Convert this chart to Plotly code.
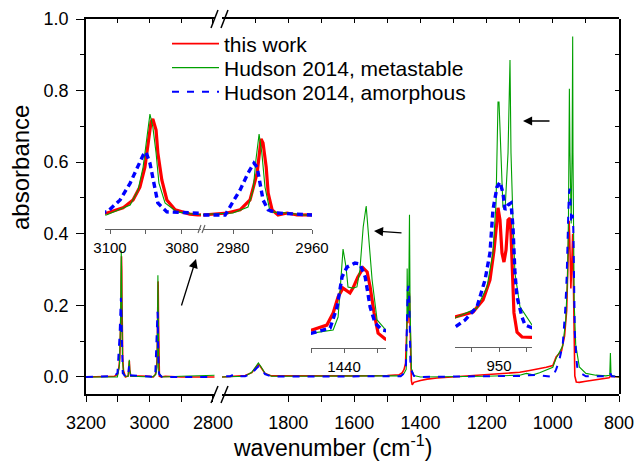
import plotly.graph_objects as go

# ---------------- data (wavenumber cm-1, absorbance) ----------------
red_wn = [3200, 3110, 3100.8, 3096.4, 3093.6, 3091.7, 3090.3, 3089.4, 3088.6, 3088.1, 3087.2, 3086.7,
          3085.6, 3084.2, 3081.9, 3077.8, 3075.6, 3067, 3065, 3063.5, 3062, 3059, 3000,
          2987.6, 2981.5, 2978.2, 2975.7, 2973.9, 2972.9, 2972.4, 2971.6, 2971.1, 2970.1, 2968.6,
          2966.3, 2963.8, 2950, 2900, 2795,
          2000, 1960, 1930, 1910, 1897, 1890, 1883, 1870, 1850, 1700, 1600, 1500, 1465, 1455,
          1449.7, 1445.2, 1443.3, 1441.8, 1440.3, 1439.1, 1438.2, 1437.3, 1435.8, 1434.2, 1433.0,
          1432.1, 1430.9, 1429.7, 1427.6, 1425, 1420, 1400, 1380, 1350, 1300, 1200, 1150, 1100,
          1070, 1050, 1020, 1000, 990, 973.6, 964.5, 958.2, 954.5, 951.8, 950.9, 949.1, 947.3,
          945.5, 943.6, 941.8, 940, 939.1, 937.3, 936.4, 933.6, 929.1, 920, 900, 860, 830, 826,
          810, 800]
red_abs = [0, 0.002, 0.007, 0.025, 0.053, 0.098, 0.168, 0.263, 0.326, 0.337, 0.298, 0.218,
           0.123, 0.053, 0.018, 0.003, 0.0, 0.003, 0.02, 0.045, 0.02, 0.003, 0.002,
           0.0, 0.007, 0.018, 0.053, 0.147, 0.267, 0.253, 0.168, 0.077, 0.018, 0.0,
           0.007, 0.0, 0.002, 0.0, 0.0,
           0.0, 0.003, 0.004, 0.012, 0.028, 0.036, 0.028, 0.01, 0.003, 0.002, 0.003, 0.004, 0.006, 0.012,
           0.021, 0.038, 0.080, 0.136, 0.167, 0.157, 0.150, 0.167, 0.206, 0.237, 0.223,
           0.171, 0.080, 0.010, -0.010, -0.022, -0.015, -0.010, -0.006, -0.003, 0.0, 0.006, 0.009, 0.013,
           0.018, 0.021, 0.027, 0.032, 0.056, 0.073, 0.115, 0.185, 0.289, 0.394, 0.436, 0.394, 0.279,
           0.247, 0.289, 0.394, 0.400, 0.348, 0.185, 0.07, 0.003, -0.014, -0.015, -0.012, -0.007, -0.002, 0.002,
           0.0, 0.0]

green_wn = [3200, 3110, 3101, 3094.4, 3092.2, 3090.8, 3089.7, 3088.9, 3088.1, 3087.2, 3086.4, 3084.7,
            3081.4, 3076, 3067, 3065, 3063.5, 3062, 3059, 2990, 2980, 2976.2, 2974.9, 2974.2, 2973.4,
            2972.7, 2971.9, 2970.6, 2966.3, 2962, 2900, 2795,
            2000, 1930, 1910, 1897, 1890, 1883, 1870, 1850, 1460, 1449.7, 1443.3, 1441.8, 1440.9,
            1440.3, 1439.4, 1438.8, 1437.3, 1436.1, 1435.2, 1434.2, 1433.3, 1432.7, 1431.5, 1430.0,
            1427.6, 1420, 1400, 1200, 1100, 1080, 1060, 1040, 1020, 1000, 990, 970, 960.9, 955.5,
            952.7, 950.9, 950, 948.2, 946.4, 944.5, 941.8, 940, 939.1, 937.3, 935.5, 930.9, 920, 900,
            870, 840, 828, 826, 824, 810, 800]
green_abs = [0, 0.0, 0.0, 0.035, 0.088, 0.168, 0.288, 0.354, 0.309, 0.218, 0.112, 0.042,
             0.011, 0.002, 0.002, 0.02, 0.048, 0.02, 0.002, 0.0, 0.007, 0.028, 0.088, 0.193, 0.284,
             0.218, 0.098, 0.011, 0.007, 0.0, 0.002, 0.0,
             0.0, 0.002, 0.013, 0.03, 0.039, 0.03, 0.01, 0.002, 0.003, 0.010, 0.021, 0.066, 0.206,
             0.303, 0.240, 0.171, 0.167, 0.171, 0.230, 0.380, 0.453, 0.369, 0.195, 0.056,
             0.024, 0.004, 0.0, 0.002, 0.005, 0.01, 0.006, 0.012, 0.02, 0.027, 0.052, 0.087, 0.16, 0.279,
             0.453, 0.805, 0.805, 0.627, 0.439, 0.429, 0.627, 0.951, 0.627, 0.394, 0.209, 0.091, 0.028, 0.01,
             0.005, 0.003, 0.005, 0.067, 0.005, 0.001, 0.0]

blue_wn = [3200, 3110, 3100.8, 3097.2, 3094.4, 3092.2, 3090.8, 3090.0, 3088.9, 3087.8, 3086.7, 3084.2,
           3080.6, 3075.6, 3067, 3064.5, 3062, 2990, 2982, 2980.8, 2978.2, 2976.2, 2974.7, 2973.9,
           2973.2, 2972.4, 2971.1, 2968.9, 2960, 2795,
           2000, 1975, 1966, 1958, 1930, 1910, 1895, 1889, 1883, 1870, 1850, 1460, 1449.7, 1444.2,
           1442.1, 1440.6, 1439.1, 1436.7, 1435.2, 1433.6, 1432.1, 1430.6, 1428.5, 1420, 1400, 1100,
           1050, 1010, 1000, 990, 980.9, 970, 962.7, 958.2, 955.5, 951.8, 949.1, 946.4, 944.5, 941.8,
           939.1, 937.3, 935.5, 933.6, 929.1, 926.4, 915, 900, 830, 826, 822, 800]
blue_abs = [0, 0.003, 0.011, 0.053, 0.112, 0.168, 0.21, 0.221, 0.182, 0.112, 0.042, 0.011,
            0.007, 0.0, 0.002, 0.03, 0.005, 0.0, 0.0, 0.028, 0.088, 0.147, 0.182, 0.168,
            0.112, 0.053, 0.018, 0.007, 0.0, 0.0,
            0.0, 0.002, 0.006, 0.002, 0.002, 0.01, 0.025, 0.03, 0.025, 0.008, 0.001, 0.002, 0.010, 0.028,
            0.101, 0.206, 0.240, 0.254, 0.251, 0.206, 0.101, 0.045, 0.021, 0.003, 0.0, 0.003,
            0.006, 0.0, 0.0, 0.021, 0.045, 0.091, 0.185, 0.279, 0.429, 0.509, 0.526, 0.488, 0.429, 0.446,
            0.453, 0.369, 0.209, 0.125, 0.056, 0.028, 0.01, 0.002, 0.002, 0.01, 0.002, 0.0]

series_names = ["this work", "Hudson 2014, metastable", "Hudson 2014, amorphous"]
left_ticks = [3200, 3000, 2800]
right_ticks = [1800, 1600, 1400, 1200, 1000, 800]
y_ticks = [0.0, 0.2, 0.4, 0.6, 0.8, 1.0]

# ---------------- layout helpers ----------------
W, H = 637, 462
def fx(px):
    return px / W
def fy(py):
    return 1 - py / H

FONT = "Liberation Sans, Arial, sans-serif"
RED, GREEN, BLUE = "#ff0000", "#00a000", "#0000ff"
series = [(red_wn, red_abs, RED), (green_wn, green_abs, GREEN), (blue_wn, blue_abs, BLUE)]
legend_ids = ["legend", "legend2", "legend3"]
legend_rows = [44, 68, 92]

fig = go.Figure()

def line_style(i, inset):
    if i == 0:
        return dict(color=RED, width=3.2 if inset else 1.6)
    if i == 1:
        return dict(color=GREEN, width=1.1)
    return dict(color=BLUE, width=3.4 if inset else 2.0, dash="6px,4px" if inset else "7px,8px")

subplots = [("x", "y", False), ("x2", "y", False), ("x5", "y3", True), ("x6", "y3", True),
            ("x7", "y4", True), ("x8", "y5", True)]
for xa, ya, inset in subplots:
    for i, (wn, ab, col) in enumerate(series):
        fig.add_trace(go.Scatter(x=wn, y=ab, mode="lines", xaxis=xa, yaxis=ya,
                                 line=line_style(i, inset), name=series_names[i],
                                 legend=legend_ids[i],
                                 showlegend=(xa == "x"), hoverinfo="skip"))
# empty traces to register the mirror axes
for xa, ya in [("x3", "y"), ("x4", "y"), ("x2", "y2")]:
    fig.add_trace(go.Scatter(x=[], y=[], xaxis=xa, yaxis=ya, showlegend=False, hoverinfo="skip"))

ax_common = dict(showgrid=False, zeroline=False, linecolor="black", linewidth=1.5, automargin=False,
                 tickcolor="black", tickwidth=1.3, tickfont=dict(family=FONT, size=18, color="black"))

y_main = dict(domain=[fy(394), fy(19)], range=[-0.0476, 1.0])
xl_dom = [fx(86), fx(214.5)]
xr_dom = [fx(222), fx(619)]
xl_rng = [3200, 2795]
xr_rng = [2000, 800]

inset_ax = dict(showgrid=False, zeroline=False, showline=True, linecolor="#606060", linewidth=1.2,
                ticks="outside", ticklen=4, tickcolor="#606060", tickwidth=1, automargin=False,
                tickfont=dict(family=FONT, size=15, color="black"), ticklabelstandoff=1)

legend_layout = {}
for lid, row in zip(legend_ids, legend_rows):
    legend_layout[lid] = dict(x=fx(167), y=fy(row), xanchor="left", yanchor="middle",
                              bgcolor="rgba(0,0,0,0)", font=dict(family=FONT, size=21, color="black"),
                              itemwidth=47)

fig.update_layout(
    template="none",
    width=W, height=H, margin=dict(l=0, r=0, t=0, b=0, autoexpand=False),
    paper_bgcolor="white", plot_bgcolor="rgba(0,0,0,0)",
    xaxis=dict(domain=xl_dom, range=xl_rng, anchor="y", showline=True, ticks="outside", ticklen=6,
               tickvals=left_ticks, minor=dict(tickvals=[3100, 2900], ticks="outside", ticklen=6,
                                               tickcolor="black", tickwidth=1.3),
               ticklabelstandoff=6, **ax_common),
    xaxis2=dict(domain=xr_dom, range=xr_rng, anchor="y", showline=True, ticks="outside", ticklen=6,
                tickvals=right_ticks, minor=dict(tickvals=[1700, 1500, 1300, 1100, 900], ticks="outside",
                                                 ticklen=6, tickcolor="black", tickwidth=1.3),
                ticklabelstandoff=6, **ax_common),
    xaxis3=dict(domain=xl_dom, range=xl_rng, anchor="y", side="top", showline=True, ticks="inside",
                ticklen=4, tickvals=[3200, 3100, 3000, 2900, 2800], showticklabels=False, **ax_common),
    xaxis4=dict(domain=xr_dom, range=xr_rng, anchor="y", side="top", showline=True, ticks="inside",
                ticklen=4, tickvals=[1900, 1800, 1700, 1600, 1500, 1400, 1300, 1200, 1100, 1000, 900, 800],
                showticklabels=False, **ax_common),
    yaxis=dict(anchor="x", showline=True, ticks="outside", ticklen=8, tickvals=y_ticks,
               tickformat=".1f", minor=dict(dtick=0.1, ticks="outside", ticklen=4, tickcolor="black",
                                            tickwidth=1.3),
               ticklabelstandoff=4, **y_main, **ax_common),
    yaxis2=dict(anchor="x2", side="right", showline=True, ticks="inside", ticklen=4, tickvals=y_ticks,
                minor=dict(dtick=0.1, ticks="inside", ticklen=4, tickcolor="black", tickwidth=1.3),
                showticklabels=False, **y_main, **ax_common),
    # inset 1 (C-H stretch, broken axis)
    xaxis5=dict(domain=[fx(105), fx(201)], range=[3101.4, 3074.7], anchor="y3",
                tickvals=[3100, 3090, 3080], ticktext=["3100", "", "3080"], **inset_ax),
    xaxis6=dict(domain=[fx(203), fx(312)], range=[2987.6, 2960.0], anchor="y3",
                tickvals=[2980, 2970, 2960], ticktext=["2980", "", "2960"], **inset_ax),
    yaxis3=dict(domain=[fy(229), fy(105)], range=[-14 / 285, 110 / 285], anchor="x5", visible=False),
    # inset 2 (1440)
    xaxis7=dict(domain=[fx(311), fx(386)], range=[1450.0, 1427.3], anchor="y4",
                tickvals=[1450, 1440, 1430], ticktext=["", "1440", ""], **inset_ax),
    yaxis4=dict(domain=[fy(348), fy(195)], range=[-0.0418, 0.4913], anchor="x7", visible=False),
    # inset 3 (950)
    xaxis8=dict(domain=[fx(455), fx(532)], range=[990, 920], anchor="y5",
                tickvals=[975, 950, 925], ticktext=["", "950", ""], **inset_ax),
    yaxis5=dict(domain=[fy(347), fy(50)], range=[-0.0488, 0.986], anchor="x8", visible=False),
    showlegend=True,
    **legend_layout,
)

# axis break marks
shapes = []
for (x0, y0, x1, y1, col, w) in [(211, 403, 218, 386, "black", 1.5), (221, 403, 228, 386, "black", 1.5),
                                 (211, 28, 218, 10, "black", 1.5), (221, 28, 228, 10, "black", 1.5),
                                 (198, 233, 201, 225, "#606060", 1.1), (202, 233, 205, 225, "#606060", 1.1)]:
    shapes.append(dict(type="line", xref="paper", yref="paper", x0=fx(x0), y0=fy(y0), x1=fx(x1), y1=fy(y1),
                       line=dict(color=col, width=w)))
fig.update_layout(shapes=shapes)

# arrows and axis titles
annos = [
    dict(x=fx(196), y=fy(259), ax=-15, ay=48),
    dict(x=fx(374), y=fy(231), ax=29, ay=2),
    dict(x=fx(523), y=fy(121), ax=28, ay=0),
]
annotations = [dict(xref="paper", yref="paper", text="", showarrow=True, arrowhead=2, arrowsize=1.4,
                    arrowwidth=1.3, arrowcolor="black", **a) for a in annos]
annotations.append(dict(xref="paper", yref="paper", x=fx(332), y=fy(446), xanchor="center", yanchor="middle",
                        text="wavenumber (cm<sup>-1</sup>)", showarrow=False,
                        font=dict(family=FONT, size=23, color="black")))
annotations.append(dict(xref="paper", yref="paper", x=fx(20), y=fy(168), xanchor="center", yanchor="middle",
                        text="absorbance", textangle=-90, showarrow=False,
                        font=dict(family=FONT, size=24, color="black")))
fig.update_layout(annotations=annotations)

fig.write_html("out.html")
